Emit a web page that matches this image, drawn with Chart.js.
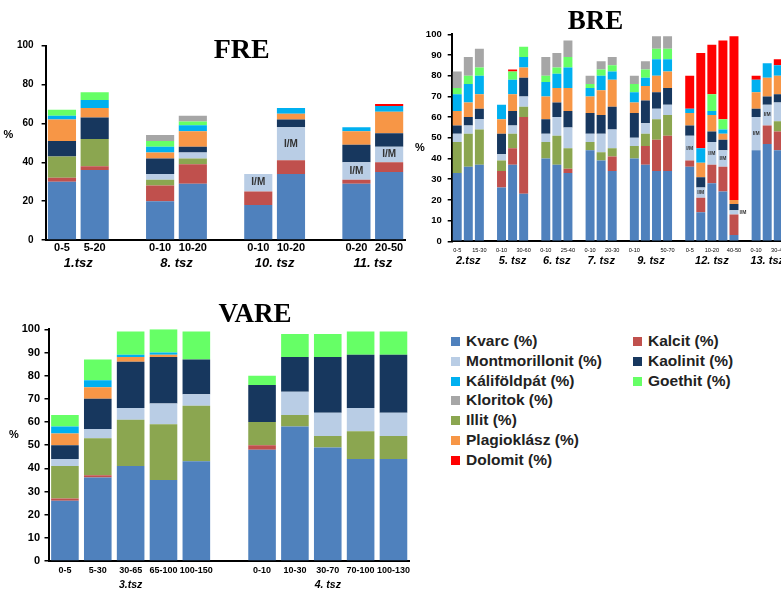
<!DOCTYPE html>
<html>
<head>
<meta charset="utf-8">
<script src="https://cdn.jsdelivr.net/npm/chart.js@4.4.1/dist/chart.umd.min.js"></script>
<style>
  body { margin: 0; width: 781px; height: 590px; overflow: hidden; background: #fff; position: relative; }
  canvas { position: absolute; }
  .leg { position: absolute; font: bold 15.5px "Liberation Sans", Arial, sans-serif; color: #222; white-space: nowrap; line-height: 20px; }
  .leg i { display: inline-block; width: 9px; height: 9px; margin-right: 6px; vertical-align: 0px; }
</style>
</head>
<body>
<canvas id="fre" width="430" height="275" style="left:0;top:0"></canvas>
<canvas id="bre" width="395" height="275" style="left:405px;top:0"></canvas>
<canvas id="vare" width="440" height="300" style="left:0;top:290px"></canvas>
<div id="legend"></div>
<script>
// stacking order, bottom to top
const SERIES = ['Kvarc (%)', 'Kalcit (%)', 'Illit (%)', 'Montmorillonit (%)', 'Kaolinit (%)',
  'Plagioklász (%)', 'Káliföldpát (%)', 'Goethit (%)', 'Kloritok (%)', 'Dolomit (%)'];
const COLORS = ['#4F81BD', '#C0504D', '#8BA650', '#B9CDE5', '#17375E',
  '#F79646', '#00B0F0', '#66FF66', '#A6A6A6', '#FF0000'];
const LEGEND_LEFT = [0, 3, 6, 8, 2, 5, 9];
const LEGEND_RIGHT = [1, 4, 7];

// FRE
const freLabels = ['0-5', '5-20', '', '0-10', '10-20', '', '0-10', '10-20', '', '0-20', '20-50'];
const freGroups = ['1.tsz', '8. tsz', '10. tsz', '11. tsz'];
const freGroupSizes = [2, 2, 2, 2];
const freKvarc   = [30, 36, null, 20, 29, null, 18, 34, null, 29, 35];
const freKalcit  = [2, 2, null, 8, 10, null, 7, 7, null, 2, 5];
const freIllit   = [11, 14, null, 3, 3, null, 0, 0, null, 0, 0];
const freMont    = [0, 0, null, 3, 3, null, 9, 17, null, 9, 8];
const freKaol    = [8, 11, null, 8, 3, null, 0, 4, null, 9, 7];
const frePlag    = [11, 5, null, 3, 8, null, 0, 3, null, 7, 11];
const freKali    = [2, 4, null, 3, 3, null, 0, 3, null, 2, 3];
const freGoethit = [3, 4, null, 3, 2, null, 0, 0, null, 0, 0];
const freKlorit  = [0, 0, null, 3, 3, null, 0, 0, null, 0, 0];
const freDolomit = [0, 0, null, 0, 0, null, 0, 0, null, 0, 1];
const freIM      = [0, 0, 0, 0, 0, 0, 1, 1, 0, 1, 1];

// BRE
const breLabels = ['0-5', '', '15-30', '', '0-10', '', '30-60', '', '0-10', '', '25-40', '',
  '0-10', '', '20-30', '', '0-10', '', '', '50-70', '', '0-5', '', '10-20', '', '40-50', '',
  '0-10', '', '30-40'];
const breGroups = ['2.tsz', '5. tsz', '6. tsz', '7. tsz', '9. tsz', '12. tsz', '13. tsz'];
const breGroupSizes = [3, 3, 3, 3, 4, 5, 3];
const breKvarc   = [33, 36, 37, null, 26, 37, 23, null, 40, 37, 33, null, 44, 39, 34, null, 40, 37, 34, 34, null, 36, 14, 28, 24, 3, null, 44, 47, 44];
const breKalcit  = [0, 0, 0, null, 8, 8, 37, null, 0, 0, 2, null, 0, 0, 7, null, 0, 9, 15, 17, null, 3, 7, 9, 12, 10, null, 0, 9, 9];
const breIllit   = [15, 16, 17, null, 5, 7, 5, null, 8, 14, 10, null, 4, 4, 4, null, 6, 6, 10, 10, null, 0, 0, 0, 0, 0, null, 0, 0, 5];
const breMont    = [4, 4, 5, null, 3, 4, 5, null, 4, 9, 10, null, 4, 9, 9, null, 4, 5, 5, 5, null, 12, 5, 11, 8, 2, null, 16, 10, 9];
const breKaol    = [4, 4, 5, null, 10, 7, 9, null, 7, 7, 8, null, 10, 9, 11, null, 12, 11, 8, 8, null, 5, 5, 5, 5, 3, null, 4, 4, 4];
const brePlag    = [7, 7, 7, null, 7, 8, 5, null, 11, 7, 11, null, 8, 12, 13, null, 5, 7, 8, 8, null, 6, 7, 8, 3, 2, null, 8, 9, 9];
const breKali    = [8, 9, 9, null, 7, 7, 5, null, 7, 7, 10, null, 4, 7, 4, null, 5, 4, 8, 6, null, 2, 7, 2, 2, 0, null, 6, 7, 5];
const breGoethit = [3, 4, 4, null, 0, 4, 5, null, 3, 3, 5, null, 2, 3, 3, null, 4, 4, 5, 5, null, 0, 0, 8, 5, 0, null, 0, 0, 0];
const breKlorit  = [8, 9, 9, null, 0, 0, 0, null, 9, 7, 8, null, 4, 4, 4, null, 4, 4, 6, 6, null, 0, 0, 0, 0, 0, null, 0, 0, 0];
const breDolomit = [0, 0, 0, null, 0, 1, 0, null, 0, 0, 0, null, 0, 0, 0, null, 0, 0, 0, 0, null, 16, 46, 24, 38, 79, null, 2, 0, 3];
const breIM      = [0, 0, 0, 0, 0, 0, 0, 0, 0, 0, 0, 0, 0, 0, 0, 0, 0, 0, 0, 0, 0, 1, 1, 1, 1, 2, 0, 1, 1, 0];

// VARE
const vareLabels = ['0-5', '5-30', '30-65', '65-100', '100-150', '', '0-10', '10-30', '30-70', '70-100', '100-130'];
const vareGroups = ['3.tsz', '4. tsz'];
const vareGroupSizes = [5, 5];
const vareKvarc   = [26, 36, 41, 35, 43, null, 48, 58, 49, 44, 44];
const vareKalcit  = [1, 1, 0, 0, 0, null, 2, 0, 0, 0, 0];
const vareIllit   = [14, 16, 20, 24, 24, null, 10, 5, 5, 12, 10];
const vareMont    = [3, 4, 5, 9, 5, null, 0, 10, 10, 10, 10];
const vareKaol    = [6, 13, 20, 20, 15, null, 16, 15, 24, 23, 25];
const varePlag    = [5, 5, 2, 1, 0, null, 0, 0, 0, 0, 0];
const vareKali    = [3, 3, 1, 1, 0, null, 0, 0, 0, 0, 0];
const vareGoethit = [5, 9, 10, 10, 12, null, 4, 10, 10, 10, 10];
const vareKlorit  = [0, 0, 0, 0, 0, null, 0, 0, 0, 0, 0];
const vareDolomit = [0, 0, 0, 0, 0, null, 0, 0, 0, 0, 0];

Chart.defaults.font.family = '"Liberation Sans", Arial, sans-serif';
Chart.defaults.color = '#000';

const SANS = '"Liberation Sans", Arial, sans-serif';
const NARROW = '"Liberation Sans Narrow", "Liberation Sans", Arial, sans-serif';

// titles, % sign, group names under the axis and I/M marks
const decor = {
  id: 'decor',
  afterDatasetsDraw(chart, args, o) {
    const ctx = chart.ctx;
    const xs = chart.scales.x;
    ctx.save();
    ctx.fillStyle = '#000';
    ctx.textAlign = 'center';
    ctx.textBaseline = 'middle';
    ctx.font = 'bold ' + o.titleSize + 'px "Liberation Serif", "Times New Roman", serif';
    ctx.fillText(o.title, o.titleX, o.titleY);
    ctx.font = 'bold 11px ' + SANS;
    ctx.fillText('%', o.pctX, o.pctY);

    ctx.font = 'italic bold ' + o.groupSize + 'px ' + SANS;
    let start = 0;
    o.groups.forEach((g, gi) => {
      const n = o.groupSizes[gi];
      const cx = (xs.getPixelForValue(start) + xs.getPixelForValue(start + n - 1)) / 2;
      ctx.fillText(g, cx, o.groupY);
      start += n + 1;
    });

    const meta = chart.getDatasetMeta(3);
    ctx.fillStyle = '#333';
    ctx.font = 'bold ' + o.imSize + 'px ' + SANS;
    o.im.forEach((f, i) => {
      if (!f) return;
      const el = meta.data[i];
      const cy = (el.y + el.base) / 2;
      if (f === 2) {
        ctx.textAlign = 'left';
        ctx.fillText('I/M', el.x + el.width / 2 + 1, cy);
        ctx.textAlign = 'center';
      } else {
        ctx.fillText('I/M', el.x, cy);
      }
    });
    ctx.restore();
  }
};

function build(id, labels, values, cfg) {
  return new Chart(document.getElementById(id), {
    type: 'bar',
    data: {
      labels: labels,
      datasets: SERIES.map((name, i) => ({
        label: name,
        data: values[i],
        backgroundColor: COLORS[i],
        borderWidth: 0,
        barPercentage: cfg.bar,
        categoryPercentage: 1
      }))
    },
    options: {
      responsive: false,
      animation: false,
      layout: { padding: cfg.pad },
      plugins: { legend: { display: false }, tooltip: { enabled: false }, decor: cfg.decor },
      scales: {
        x: {
          stacked: true,
          grid: { display: false, drawTicks: false },
          border: { color: '#000', width: 2 },
          ticks: { autoSkip: false, maxRotation: 0, padding: cfg.xPad, font: cfg.xFont },
          afterFit: s => { s.height = cfg.xH; }
        },
        y: {
          stacked: true,
          min: 0,
          max: 100,
          ticks: { stepSize: cfg.step, padding: cfg.yPad, font: cfg.yFont },
          grid: { drawOnChartArea: false, color: '#000', tickLength: 4, lineWidth: 1.5 },
          border: { color: '#000', width: 2 },
          afterFit: s => { s.width = cfg.yW; }
        }
      }
    },
    plugins: [decor]
  });
}

build('fre', freLabels,
  [freKvarc, freKalcit, freIllit, freMont, freKaol, frePlag, freKali, freGoethit, freKlorit, freDolomit], {
  bar: 0.86, step: 20,
  pad: { left: 0, top: 45.7, right: 24.5, bottom: 0 },
  yW: 45.6, xH: 35, xPad: 1, yPad: 8,
  xFont: { family: NARROW, size: 11, weight: 'bold' },
  yFont: { size: 10, weight: 'bold' },
  decor: { title: 'FRE', titleSize: 28, titleX: 241.7, titleY: 50.5, pctX: 8.5, pctY: 135,
    groups: freGroups, groupSizes: freGroupSizes, groupSize: 13, groupY: 263, im: freIM, imSize: 10 }
});

build('bre', breLabels,
  [breKvarc, breKalcit, breIllit, breMont, breKaol, brePlag, breKali, breGoethit, breKlorit, breDolomit], {
  bar: 0.81, step: 10,
  pad: { left: 0, top: 34.3, right: 16.2, bottom: 0 },
  yW: 46.7, xH: 33.7, xPad: 5.4, yPad: 6,
  xFont: { size: 5.6, weight: 'normal' },
  yFont: { size: 9.5, weight: 'bold' },
  decor: { title: 'BRE', titleSize: 27, titleX: 190.5, titleY: 22.5, pctX: 15, pctY: 148,
    groups: breGroups, groupSizes: breGroupSizes, groupSize: 11, groupY: 261, im: breIM, imSize: 5 }
});

build('vare', vareLabels,
  [vareKvarc, vareKalcit, vareIllit, vareMont, vareKaol, varePlag, vareKali, vareGoethit, vareKlorit, vareDolomit], {
  bar: 0.84, step: 10,
  pad: { left: 0, top: 39.3, right: 30.1, bottom: 0 },
  yW: 48.5, xH: 29, xPad: 4.6, yPad: 4.5,
  xFont: { size: 9, weight: 'bold' },
  yFont: { size: 11, weight: 'bold' },
  decor: { title: 'VARE', titleSize: 27, titleX: 255, titleY: 25.5, pctX: 14, pctY: 145,
    groups: vareGroups, groupSizes: vareGroupSizes, groupSize: 10.5, groupY: 295, im: [], imSize: 10 }
});

// legend, two columns
const legend = document.getElementById('legend');
[[LEGEND_LEFT, 451], [LEGEND_RIGHT, 633]].forEach(([list, left]) => {
  list.forEach((si, row) => {
    const d = document.createElement('div');
    d.className = 'leg';
    d.style.left = left + 'px';
    d.style.top = (330.7 + row * 19.9) + 'px';
    d.innerHTML = '<i style="background:' + COLORS[si] + '"></i>' + SERIES[si];
    legend.appendChild(d);
  });
});
</script>
</body>
</html>
